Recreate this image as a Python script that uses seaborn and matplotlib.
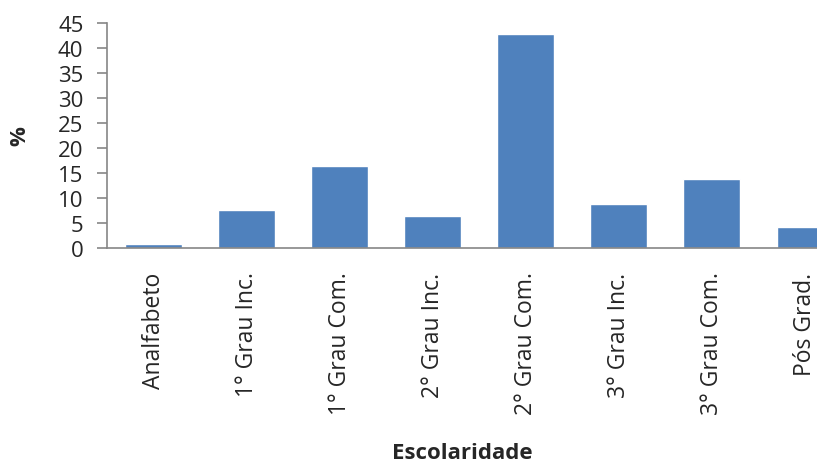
import seaborn as sns
import matplotlib.pyplot as plt
import pandas as pd

# Data
categorias = ['Analfabeto', '1° Grau Inc.', '1° Grau Com.', '2° Grau Inc.',
              '2° Grau Com.', '3° Grau Inc.', '3° Grau Com.', 'Pós Grad.']
percentual = [0.8, 7.6, 16.3, 6.3, 42.8, 8.8, 13.7, 4.2]

df = pd.DataFrame({'Escolaridade': categorias, 'pct': percentual})

sns.set_style('white')
plt.rcParams['font.family'] = ['Open Sans', 'DejaVu Sans']

fig = plt.figure(figsize=(8.17, 4.64), dpi=100)
ax = fig.add_axes([0.131, 0.4634, 0.869, 0.4849])

sns.barplot(data=df, x='Escolaridade', y='pct', color='#4F81BD',
            saturation=1, width=0.61, ax=ax)

ax.set_ylim(0, 45)
ax.set_yticks(range(0, 46, 5))
ax.set_xlim(-0.5, 7.13)
ax.tick_params(axis='y', labelsize=16, length=7, width=1.2, color='#868686',
               direction='out', left=True, pad=10)
ax.tick_params(axis='x', labelsize=16.5, length=0, pad=17)
plt.setp(ax.get_xticklabels(), rotation=90)

for side in ['top', 'right']:
    ax.spines[side].set_visible(False)
for side in ['left', 'bottom']:
    ax.spines[side].set_color('#868686')
    ax.spines[side].set_linewidth(1.2)

ax.set_xlabel('Escolaridade', fontsize=16, fontweight='bold', labelpad=20)
ax.set_ylabel('%', fontsize=16, fontweight='bold', labelpad=20)

fig.savefig('out.png', dpi=100)
